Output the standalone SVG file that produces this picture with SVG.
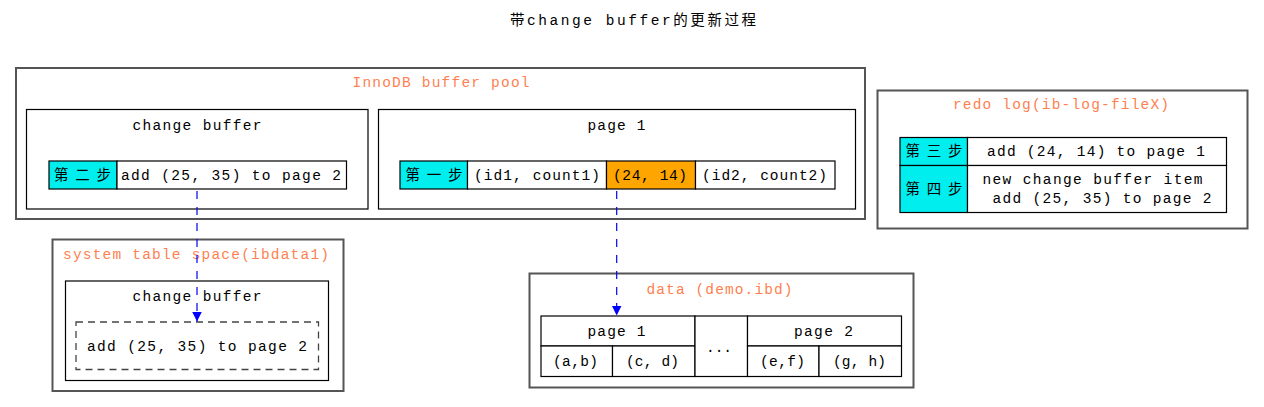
<svg xmlns="http://www.w3.org/2000/svg" width="1264" height="407" viewBox="0 0 1264 407">
<style>
text{font-family:"Liberation Mono","Noto Sans CJK SC",monospace;font-size:14.5px;fill:#000}
.lbl{fill:#ff7f50}
.outer{fill:none;stroke:#555;stroke-width:2}
.inner{fill:none;stroke:#000;stroke-width:1.2}
.cell{fill:#fff;stroke:#000;stroke-width:1.2}
.cyan{fill:#00eeee;stroke:#000;stroke-width:1.2}
.orange{fill:#ffa500;stroke:#000;stroke-width:1.2}
.edge{fill:none;stroke:#0000ff;stroke-width:1.2;stroke-dasharray:8,8}
</style>
<defs>
<marker id="arr" viewBox="0 0 10 10" refX="10" refY="5" markerWidth="10" markerHeight="10" markerUnits="userSpaceOnUse" orient="auto">
<path d="M0,0 L10,5 L0,10 z" fill="#0000ff"/>
</marker>
</defs>
<rect width="1264" height="407" fill="#fff"/>
<text id="title" x="510" y="25" textLength="246" lengthAdjust="spacing">带change buffer的更新过程</text>

<g id="bufferpool">
<rect class="outer" x="16" y="68" width="849" height="151"/>
<text class="lbl" x="352.5" y="87" textLength="177" lengthAdjust="spacing">InnoDB buffer pool</text>
</g>
<g id="changebuffer_mem">
<rect class="inner" x="26.5" y="109.5" width="341.5" height="99.5"/>
<text x="132.5" y="130" textLength="129" lengthAdjust="spacing">change buffer</text>
<rect class="cyan" x="49" y="161" width="68" height="28"/>
<rect class="cell" x="117" y="161" width="229.5" height="28"/>
<text x="54" y="180" textLength="57" lengthAdjust="spacing">第二步</text>
<text x="121" y="180" textLength="220" lengthAdjust="spacing">add (25, 35) to page 2</text>
</g>
<g id="page1_mem">
<rect class="inner" x="378.5" y="109.5" width="477" height="99.5"/>
<text x="587.5" y="130" textLength="58" lengthAdjust="spacing">page 1</text>
<rect class="cyan" x="400" y="161" width="67.5" height="28"/>
<rect class="cell" x="467.5" y="161" width="139" height="28"/>
<rect class="orange" x="606.5" y="161" width="89" height="28"/>
<rect class="cell" x="695.5" y="161" width="139.5" height="28"/>
<text x="405.5" y="180" textLength="57" lengthAdjust="spacing">第一步</text>
<text x="474" y="180" textLength="126" lengthAdjust="spacing">(id1, count1)</text>
<text x="613" y="180" textLength="74" lengthAdjust="spacing">(24, 14)</text>
<text x="702" y="180" textLength="125" lengthAdjust="spacing">(id2, count2)</text>
</g>
<g id="redolog">
<rect class="outer" x="877.5" y="90.5" width="370" height="138"/>
<text class="lbl" x="953" y="109" textLength="216" lengthAdjust="spacing">redo log(ib-log-fileX)</text>
<rect class="cyan" x="900" y="137.5" width="67.5" height="28"/>
<rect class="cell" x="967.5" y="137.5" width="259" height="28"/>
<rect class="cyan" x="900" y="165.5" width="67.5" height="47"/>
<rect class="cell" x="967.5" y="165.5" width="259" height="47"/>
<text x="905.5" y="156" textLength="57" lengthAdjust="spacing">第三步</text>
<text x="905.5" y="194" textLength="57" lengthAdjust="spacing">第四步</text>
<text x="987" y="156" textLength="218" lengthAdjust="spacing">add (24, 14) to page 1</text>
<text x="982.5" y="184" textLength="220" lengthAdjust="spacing">new change buffer item</text>
<text x="992.5" y="203" textLength="219" lengthAdjust="spacing">add (25, 35) to page 2</text>
</g>
<g id="systablespace">
<rect class="outer" x="52.5" y="239.5" width="291" height="151.5"/>
<text class="lbl" x="63" y="259" textLength="266" lengthAdjust="spacing">system table space(ibdata1)</text>
<rect class="inner" x="65.5" y="281" width="263" height="99.5"/>
<text x="132.5" y="300.5" textLength="129" lengthAdjust="spacing">change buffer</text>
<rect fill="none" stroke="#444" stroke-width="1.3" stroke-dasharray="7,5" x="76" y="322" width="242.5" height="47.5"/>
<text x="87" y="351" textLength="220" lengthAdjust="spacing">add (25, 35) to page 2</text>
</g>
<g id="datafile">
<rect class="outer" x="529.5" y="273.5" width="384" height="114"/>
<text class="lbl" x="646.5" y="293.5" textLength="146" lengthAdjust="spacing">data (demo.ibd)</text>
<rect class="cell" x="541" y="316" width="154" height="30"/>
<rect class="cell" x="541" y="346" width="71.5" height="30.5"/>
<rect class="cell" x="612.5" y="346" width="82.5" height="30.5"/>
<rect class="cell" x="695" y="316" width="52.5" height="60.5"/>
<rect class="cell" x="747.5" y="316" width="154" height="30"/>
<rect class="cell" x="747.5" y="346" width="71.5" height="30.5"/>
<rect class="cell" x="819" y="346" width="82.5" height="30.5"/>
<text x="587.5" y="336" textLength="58" lengthAdjust="spacing">page 1</text>
<text x="794" y="336" textLength="59" lengthAdjust="spacing">page 2</text>
<text x="553" y="366" textLength="45" lengthAdjust="spacing">(a,b)</text>
<text x="626" y="366" textLength="53" lengthAdjust="spacing">(c, d)</text>
<text x="706" y="352" textLength="26" lengthAdjust="spacing">...</text>
<text x="760" y="366" textLength="45" lengthAdjust="spacing">(e,f)</text>
<text x="833" y="366" textLength="53" lengthAdjust="spacing">(g, h)</text>
</g>
<g id="connectors">
<path class="edge" d="M197,189 L197,321.5" stroke-dashoffset="-2" marker-end="url(#arr)"/>
<path class="edge" d="M616.7,189 L616.7,315.5" stroke-dashoffset="-2" marker-end="url(#arr)"/>
</g>
</svg>
